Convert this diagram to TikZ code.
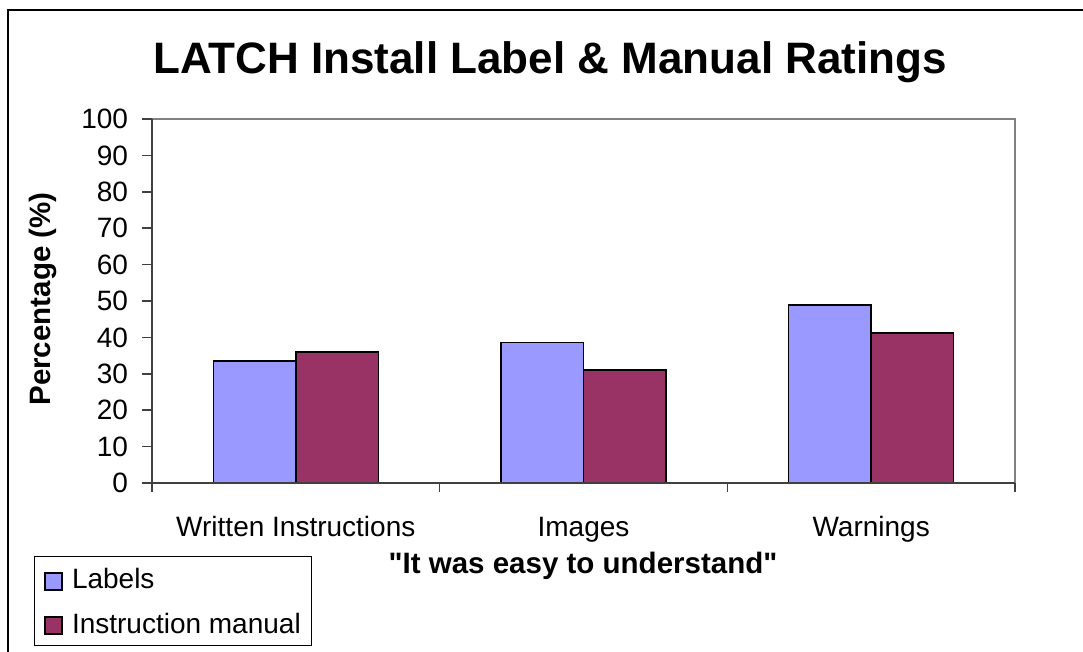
\documentclass[tikz,border=0pt]{standalone}
\usepackage{fontspec}
\setmainfont{Liberation Sans}[Ligatures=TeXOff]
\definecolor{barblue}{HTML}{9999FF}
\definecolor{barmaroon}{HTML}{993366}
\definecolor{axisgray}{HTML}{404040}
\definecolor{framegray}{HTML}{808080}
\begin{document}
\begin{tikzpicture}[x=1pt,y=-1pt,
  every node/.style={inner sep=0pt,outer sep=0pt},
  txt/.style={font=\fontsize{28}{32}\selectfont},
  btxt/.style={font=\fontsize{29.5}{33}\selectfont\bfseries},
  ttl/.style={font=\fontsize{44}{48}\selectfont\bfseries},
  axisline/.style={draw=axisgray,line width=1.5pt},
  plotframe/.style={draw=framegray,line width=1.2pt},
  barA/.style={fill=barblue,draw=black,line width=1.6pt},
  barB/.style={fill=barmaroon,draw=black,line width=1.6pt},
  legbox/.style={draw=black,line width=1pt,fill=white},
  outerframe/.style={draw=black,line width=2.2pt}]
\useasboundingbox (0,0) rectangle (1083,652);
\fill[white] (0,0) rectangle (1083,652);
\draw[outerframe] (8,652) -- (8,10) -- (1083,10);
% title
\node[ttl,anchor=base] (title) at (550,74) {LATCH Install Label \& Manual Ratings};
% plot area frame
\draw[plotframe] (152,119) -- (1015,119) -- (1015,483);
% bars
\foreach \i/\a/\b in {0/33.5/36.0, 1/38.6/31.0, 2/48.9/41.2}{
  \pgfmathsetmacro{\xl}{213.3+287.667*\i}
  \pgfmathsetmacro{\xm}{\xl+82.5}
  \pgfmathsetmacro{\xr}{\xm+82.5}
  \pgfmathsetmacro{\ya}{483-3.64*\a}
  \pgfmathsetmacro{\yb}{483-3.64*\b}
  \draw[barA] (\xl,483) rectangle (\xm,\ya);
  \draw[barB] (\xm,483) rectangle (\xr,\yb);
}
% axes
\draw[axisline] (152,119) -- (152,483) -- (1015,483);
\foreach \v in {0,10,...,100}{
  \pgfmathsetmacro{\yy}{483-3.64*\v}
  \draw[axisline] (142,\yy) -- (152,\yy);
  \node[txt,anchor=east] (ytick\v) at (128,\yy) {\v};
}
\foreach \i in {0,1,2,3}{
  \pgfmathsetmacro{\xx}{152+287.667*\i}
  \draw[axisline] (\xx,483) -- (\xx,492);
}
% category labels
\node[txt,anchor=base] (catA) at (295.8,536) {Written Instructions};
\node[txt,anchor=base] (catB) at (583.5,536) {Images};
\node[txt,anchor=base] (catC) at (871.2,536) {Warnings};
% axis titles
\node[btxt,rotate=90] (ytitle) at (43,299) {Percentage (\%)};
\node[btxt,anchor=base] (xtitle) at (583,573) {"It was easy to understand"};
% legend
\draw[legbox] (34,556) rectangle (311,645);
\draw[barA,line width=1.3pt] (45,573) rectangle (62,590);
\draw[barB,line width=1.3pt] (45,617) rectangle (62,634);
\node[txt,anchor=base west] (legA) at (72,588) {Labels};
\node[txt,anchor=base west] (legB) at (72,633) {Instruction manual};
\end{tikzpicture}
\end{document}
